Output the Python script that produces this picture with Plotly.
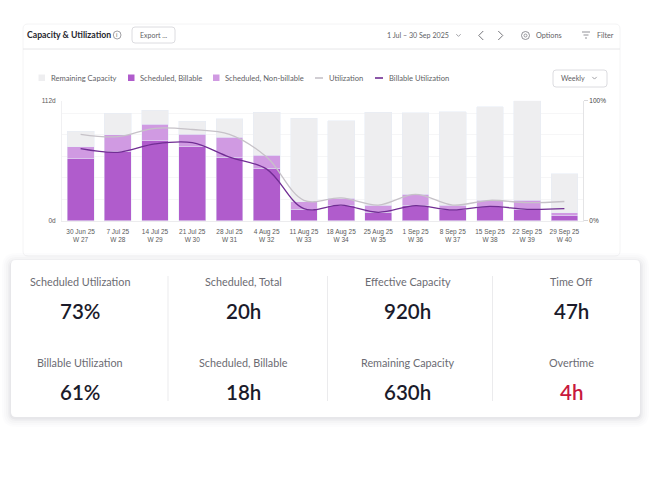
import plotly.graph_objects as go

W = 650
H = 480
# plotly pushes these margins itself, so paper coordinates have to account for them
M_TOP = 4
M_BOTTOM = 3

weeks = ["30 Jun 25<br>W 27", "7 Jul 25<br>W 28", "14 Jul 25<br>W 29", "21 Jul 25<br>W 30",
         "28 Jul 25<br>W 31", "4 Aug 25<br>W 32", "11 Aug 25<br>W 33", "18 Aug 25<br>W 34",
         "25 Aug 25<br>W 35", "1 Sep 25<br>W 36", "8 Sep 25<br>W 37", "15 Sep 25<br>W 38",
         "22 Sep 25<br>W 39", "29 Sep 25<br>W 40"]
billable = [57.6, 64.4, 74.4, 69, 59, 49, 10.6, 14.6, 7.8, 14.6, 10, 13, 10.9, 4.4]
non_billable = [11.2, 15.9, 15.5, 11.9, 19, 12.3, 7.1, 6.2, 6.8, 10.3, 4.6, 6.3, 8.1, 2.8]
remaining = [14.9, 19.9, 13.4, 12.1, 17.2, 40.1, 77.8, 72.5, 86.4, 75.9, 87.1, 87.1, 93, 36.4]
utilization = [72, 70, 77, 76, 72, 53, 17, 19, 13, 22, 13, 17, 15, 16]
billable_utilization = [60, 57, 64, 65, 53, 43, 10, 13, 7, 12.5, 9, 12, 9.5, 10]

left_ticks = [0, 20, 40, 60, 80, 100, 112]
left_labels = ["0d", "", "", "", "", "", "112d"]
right_ticks = [0, 100]
right_labels = ["0%", "100%"]

marked_week = [weeks[5]]
marked_y = [-4.2]

stat_labels = [["Scheduled Utilization", "Scheduled, Total", "Effective Capacity", "Time Off"],
               ["Billable Utilization", "Scheduled, Billable", "Remaining Capacity", "Overtime"]]
stat_values = [["73%", "20h", "920h", "47h"],
               ["61%", "18h", "630h", "4h"]]

C_BILL = "#b05ccc"
C_NON = "#d09ae2"
C_REM = "#eeeef0"
C_UTIL = "#c6c2c8"
C_BUTIL = "#702d93"
C_TEXT = "#5f5f66"
C_DARK = "#1b1b2b"
FONT = "Lato"


def fx(x):
    return x / W


def fy(y):
    return 1 - (y - M_TOP) / (H - M_TOP - M_BOTTOM)


fig = go.Figure()
fig.add_trace(go.Bar(x=weeks, y=billable, name="Scheduled, Billable", marker_color=C_BILL))
fig.add_trace(go.Bar(x=weeks, y=non_billable, name="Scheduled, Non-billable", marker_color=C_NON))
fig.add_trace(go.Bar(x=weeks, y=remaining, name="Remaining Capacity", marker_color=C_REM))
fig.add_trace(go.Scatter(x=weeks, y=utilization, name="Utilization", yaxis="y2", mode="lines",
                         line=dict(color=C_UTIL, width=1.3, shape="spline", smoothing=1)))
fig.add_trace(go.Scatter(x=weeks, y=billable_utilization, name="Billable Utilization", yaxis="y2", mode="lines",
                         line=dict(color=C_BUTIL, width=1.3, shape="spline", smoothing=1)))
fig.add_trace(go.Scatter(x=marked_week, y=marked_y, mode="markers", cliponaxis=False,
                         marker=dict(color=C_BILL, size=3.5), showlegend=False))

shapes = []
annotations = []


def rect(x0, y0, x1, y1, fill="white", line=None, width=1, layer="below"):
    shapes.append(dict(type="rect", xref="paper", yref="paper", x0=fx(x0), x1=fx(x1), y0=fy(y1), y1=fy(y0),
                       fillcolor=fill, line=dict(color=line, width=width if line else 0), layer=layer))


def seg(x0, y0, x1, y1, color, width=1, layer="above"):
    shapes.append(dict(type="line", xref="paper", yref="paper", x0=fx(x0), x1=fx(x1), y0=fy(y0), y1=fy(y1),
                       line=dict(color=color, width=width), layer=layer))


def rounded(x0, y0, x1, y1, r, fill="white", line=None, width=1, layer="below"):
    xa, xb = fx(x0), fx(x1)
    ya, yb = fy(y0), fy(y1)
    rx, ry = r / W, r / (H - M_TOP - M_BOTTOM)
    path = (f"M {xa + rx} {ya} L {xb - rx} {ya} Q {xb} {ya} {xb} {ya - ry} L {xb} {yb + ry} Q {xb} {yb} {xb - rx} {yb} "
            f"L {xa + rx} {yb} Q {xa} {yb} {xa} {yb + ry} L {xa} {ya - ry} Q {xa} {ya} {xa + rx} {ya} Z")
    shapes.append(dict(type="path", xref="paper", yref="paper", path=path, fillcolor=fill,
                       line=dict(color=line, width=width if line else 0), layer=layer))


def chevron(x, y, size, direction, color="#777777"):
    if direction == "down":
        seg(x - size, y - size / 2, x, y + size / 2, color, 0.8)
        seg(x, y + size / 2, x + size, y - size / 2, color, 0.8)
    else:
        d = size / 2 if direction == "right" else -size / 2
        seg(x - d, y - size, x + d, y, color, 0.9)
        seg(x + d, y, x - d, y + size, color, 0.9)


def text(x, y, s, size=8.5, color=C_TEXT, anchor="left", weight=None, family=FONT):
    annotations.append(dict(x=fx(x), y=fy(y), xref="paper", yref="paper", text=s, showarrow=False,
                            xanchor=anchor, yanchor="middle", borderpad=0,
                            font=dict(family=family, size=size, color=color, weight=weight)))


# chart card and header
rounded(23, 24, 620, 256, 5, fill="white", line="#f4f4f5")
seg(23, 49, 620, 49, "#e6e6e8", 1, layer="below")
text(26, 35, "Capacity &amp; Utilization", size=8.7, color="#26262e", weight=700)
shapes.append(dict(type="circle", xref="paper", yref="paper", x0=fx(113.3), x1=fx(121), y0=fy(39), y1=fy(31),
                   line=dict(color="#77777d", width=0.7)))
text(117.2, 35, "i", size=6, color="#66666c", anchor="center")
rounded(132, 27, 175, 43, 3, line="#dcdce0")
text(153.5, 35.5, "Export ...", size=7, anchor="center")
text(386, 35.5, "1 Jul – 30 Sep 2025", size=7.1)
chevron(458.5, 35.3, 2.2, "down", "#8a8a90")
chevron(481, 35.5, 4.5, "left", "#66666c")
chevron(500.5, 35.5, 4.5, "right", "#66666c")
shapes.append(dict(type="circle", xref="paper", yref="paper", x0=fx(521.5), x1=fx(529.5), y0=fy(39.5), y1=fy(31.5),
                   line=dict(color="#77777d", width=0.8)))
shapes.append(dict(type="circle", xref="paper", yref="paper", x0=fx(524), x1=fx(527), y0=fy(37), y1=fy(34),
                   line=dict(color="#77777d", width=0.7)))
text(535, 35.5, "Options", size=7.3)
seg(582, 32, 590, 32, "#77777d", 0.8)
seg(583.5, 35, 588.5, 35, "#77777d", 0.8)
seg(585, 38, 587, 38, "#77777d", 0.8)
text(596, 35.5, "Filter", size=7.2)

# legend
rect(38.5, 74.5, 45, 81, fill=C_REM)
text(50, 78, "Remaining Capacity", size=7.6)
rect(128, 74.5, 134.5, 81, fill=C_BILL)
text(139, 78, "Scheduled, Billable", size=7.6)
rect(213, 74.5, 219.5, 81, fill=C_NON)
text(224, 78, "Scheduled, Non-billable", size=7.6)
seg(315, 78, 323, 78, C_UTIL, 1.6)
text(328, 78, "Utilization", size=7.6)
seg(375, 78, 383, 78, C_BUTIL, 1.6)
text(388, 78, "Billable Utilization", size=7.6)
rounded(553, 70, 607, 87, 3, line="#dcdce0")
text(560, 78.5, "Weekly", size=7.2)
chevron(594.5, 78, 2.2, "down", "#8a8a90")

# stats card with a soft shadow, drawn on top of the chart card
for grow, alpha in [(9, 0.012), (7, 0.016), (5, 0.02), (3, 0.028), (1.5, 0.035)]:
    rounded(11 - grow, 260 - grow + 2, 640 + grow, 417 + grow + 1, 5 + grow,
            fill=f"rgba(40,40,60,{alpha})", layer="above")
rounded(11, 260, 640, 417, 5, fill="white", layer="above")
for x in [168, 327.5, 492.5]:
    seg(x, 276, x, 401, "#ebebed", 1)

col_x = [80, 243.8, 407.5, 571]
row_label_y = [281, 362]
row_value_y = [310.5, 391.5]
for r in range(2):
    for c in range(4):
        text(col_x[c], row_label_y[r], stat_labels[r][c], size=10.8, color="#6b6b72", anchor="center")
        color = "#c8193c" if stat_labels[r][c] == "Overtime" else C_DARK
        text(col_x[c], row_value_y[r], stat_values[r][c], size=20.5, color=color, anchor="center", weight=600)

fig.update_layout(
    width=W, height=H,
    margin=dict(l=0, r=0, t=M_TOP, b=M_BOTTOM),
    paper_bgcolor="white", plot_bgcolor="rgba(0,0,0,0)",
    barmode="stack", bargap=0.28,
    showlegend=False,
    shapes=shapes, annotations=annotations,
    xaxis=dict(domain=[fx(62), fx(583)], range=[-0.5, 13.5], type="category", categoryorder="array",
               categoryarray=weeks, showgrid=False, zeroline=False, showline=True, linecolor="#ececee",
               ticks="", tickfont=dict(family="Liberation Sans", size=6.5, color="#5a5a5a"), tickangle=0,
               ticklabelstandoff=4),
    yaxis=dict(domain=[fy(220.7), fy(100.7)], range=[0, 112], tickmode="array", tickvals=left_ticks,
               ticktext=left_labels, gridcolor="#f6f6f7", gridwidth=1, zeroline=False, showline=True,
               linecolor="#f0f0f2", ticks="", ticklabelstandoff=4,
               tickfont=dict(family="Liberation Sans", size=6.5, color="#5a5a5a")),
    yaxis2=dict(overlaying="y", side="right", anchor="x", range=[0, 100], tickmode="array", tickvals=right_ticks,
                ticktext=right_labels, showgrid=False, zeroline=False, showline=True, linecolor="#e4e4e6",
                ticks="outside", ticklen=4, tickcolor="#d8d8da",
                tickfont=dict(family="Liberation Sans", size=6.5, color="#444444")),
)

fig.write_html("out.html", config=dict(displayModeBar=False),
               post_script="document.body.style.margin='0';")
